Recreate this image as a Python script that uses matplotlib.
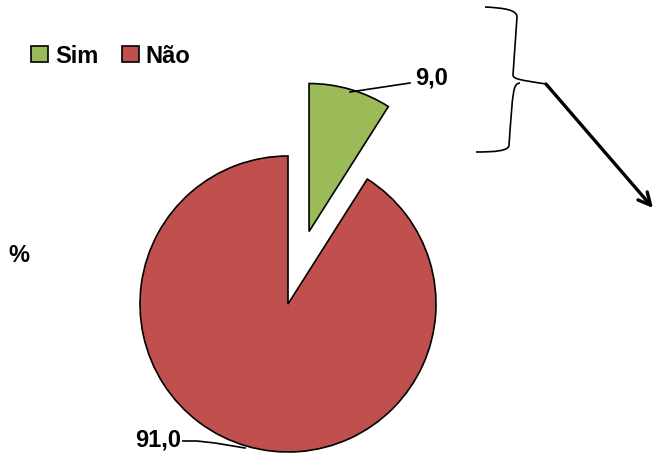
import matplotlib.pyplot as plt
from matplotlib.path import Path
from matplotlib.patches import PathPatch

labels = ['Sim', 'Não']
values = [9.0, 91.0]
colors = ['#9BBB59', '#C0504D']

W, H = 654, 456
R = 148


def Y(y):
    # image rows -> data y (pixel coordinates, y up)
    return H - y


plt.rcParams['font.family'] = ['Liberation Sans', 'DejaVu Sans']

fig = plt.figure(figsize=(W / 100, H / 100), dpi=100)
ax = fig.add_axes([0, 0, 1, 1])

# explode is in data units here (radius is in pixels)
wedges, _ = ax.pie(values, explode=[0.51 * R, 0], startangle=90, counterclock=False,
                   center=(288, Y(305)), radius=R, colors=colors,
                   wedgeprops=dict(edgecolor='black', linewidth=1.2))
ax.set_xlim(0, W)
ax.set_ylim(0, H)
ax.set_aspect('auto')
ax.axis('off')

# data labels with leader lines
fmt = lambda v: f'{v:.1f}'.replace('.', ',')
ax.plot([350, 410], [Y(93), Y(84)], color='black', lw=1.2)
ax.text(415, Y(85), fmt(values[0]), fontsize=17, fontweight='bold',
        ha='left', va='baseline')
ax.plot([183, 197, 215, 245], [Y(442), Y(442), Y(444), Y(449)], color='black', lw=1.2)
ax.text(181, Y(447), fmt(values[1]), fontsize=17, fontweight='bold',
        ha='right', va='baseline')

ax.text(8, Y(262), '%', fontsize=17, fontweight='bold', ha='left', va='baseline')

leg = fig.legend(wedges, labels, loc='upper left', bbox_to_anchor=(22 / W, 1 - 36 / H),
                 ncol=2, frameon=False, handlelength=0.7, handleheight=0.7,
                 handletextpad=0.3, columnspacing=1.0, borderaxespad=0,
                 prop=dict(size=17, weight='bold'))

# curly brace
verts = [
    (485, Y(8)), (505, Y(9)), (517, Y(11)), (517, Y(18)),
    (513, Y(76)),
    (513, Y(80)), (520, Y(81)), (546, Y(85)),
    (520, Y(84)), (513, Y(85)), (513, Y(90)),
    (509, Y(146)),
    (509, Y(152)), (495, Y(153)), (476, Y(153)),
]
codes = [Path.MOVETO, Path.CURVE4, Path.CURVE4, Path.CURVE4,
         Path.LINETO,
         Path.CURVE4, Path.CURVE4, Path.CURVE4,
         Path.MOVETO, Path.CURVE4, Path.CURVE4,
         Path.LINETO,
         Path.CURVE4, Path.CURVE4, Path.CURVE4]
ax.add_patch(PathPatch(Path(verts, codes), facecolor='none', edgecolor='black', lw=1.2))

# arrow
ax.annotate('', xy=(653, Y(209)), xytext=(546, Y(85)),
            arrowprops=dict(arrowstyle='->', lw=2.4, color='black',
                            mutation_scale=22, shrinkA=0, shrinkB=0))

fig.savefig('out.png', dpi=100)
